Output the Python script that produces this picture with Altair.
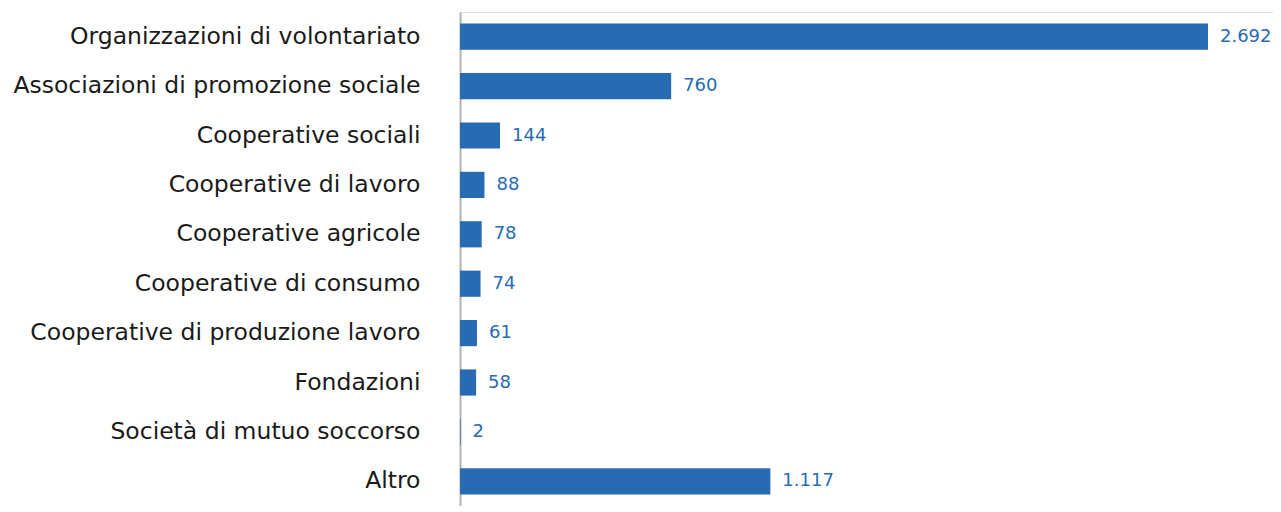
import altair as alt
import pandas as pd

categories = [
    "Organizzazioni di volontariato",
    "Associazioni di promozione sociale",
    "Cooperative sociali",
    "Cooperative di lavoro",
    "Cooperative agricole",
    "Cooperative di consumo",
    "Cooperative di produzione lavoro",
    "Fondazioni",
    "Società di mutuo soccorso",
    "Altro",
]
values = [2692, 760, 144, 88, 78, 74, 61, 58, 2, 1117]

df = pd.DataFrame({"categoria": categories, "valore": values})

BLUE = "#276bb3"
FONT = "DejaVu Sans"

y_enc = alt.Y(
    "categoria:N",
    sort=categories,
    title=None,
    scale=alt.Scale(paddingInner=0.47, paddingOuter=0.235),
    axis=alt.Axis(
        domain=True,
        domainColor="#b3b3b3",
        domainWidth=2,
        ticks=False,
        labelFont=FONT,
        labelFontSize=23.5,
        labelFontWeight=400,
        labelColor="#1a1a1a",
        labelPadding=40,
        labelLimit=500,
        grid=False,
    ),
)
x_enc = alt.X(
    "valore:Q",
    title=None,
    scale=alt.Scale(domain=[0, 2926], nice=False),
    axis=None,
)

bars = alt.Chart(df).mark_bar(color=BLUE).encode(x=x_enc, y=y_enc)

labels = (
    alt.Chart(df)
    .transform_calculate(lab="replace(format(datum.valore, ','), ',', '.')")
    .mark_text(align="left", baseline="middle", dx=12, font=FONT, fontSize=18,
               fontWeight=400, color=BLUE)
    .encode(x=x_enc, y=y_enc, text="lab:N")
)

chart = (
    alt.layer(bars, labels)
    .properties(
        width=813,
        height=494,
        autosize=alt.AutoSizeParams(type="none"),
        padding={"left": 452, "top": 4, "right": 0, "bottom": 0},
    )
    .configure_view(stroke=None)
    .configure(background="white")
)

chart.save("out.html", embed_options={"renderer": "svg", "actions": False})
